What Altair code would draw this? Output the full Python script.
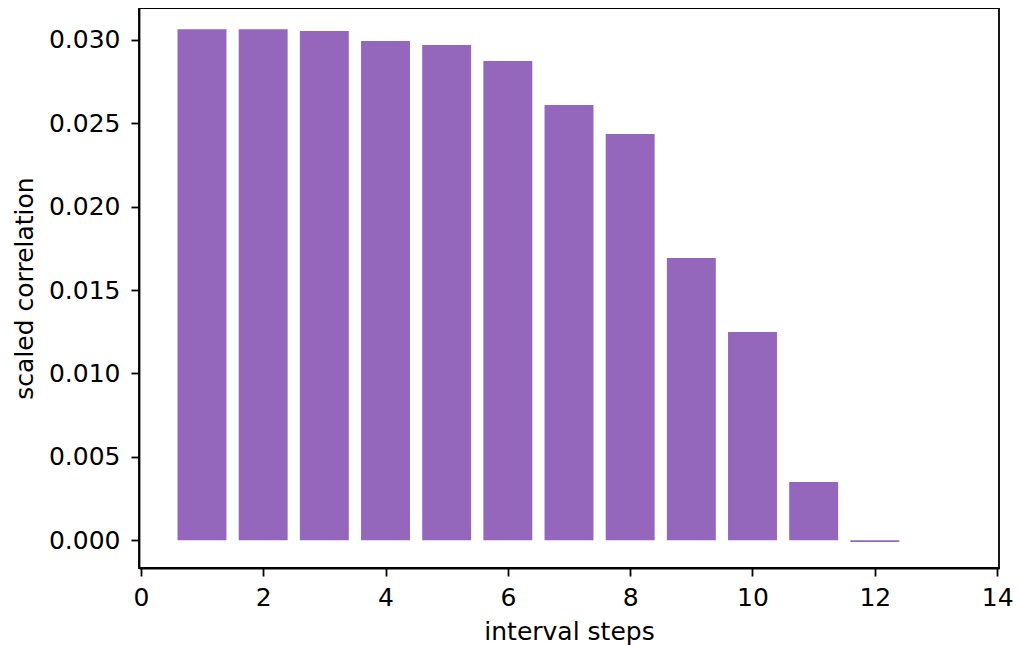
import altair as alt
import pandas as pd

steps = [1, 2, 3, 4, 5, 6, 7, 8, 9, 10, 11, 12]
values = [0.03064, 0.03064, 0.03053, 0.02993, 0.02969, 0.02874,
          0.02610, 0.02436, 0.01693, 0.01249, 0.00350, -0.0001]
x_ticks = [0, 2, 4, 6, 8, 10, 12, 14]
y_ticks = [0.000, 0.005, 0.010, 0.015, 0.020, 0.025, 0.030]

df = pd.DataFrame({"step": steps, "value": values})

FONT = "DejaVu Sans"

chart = alt.Chart(df).transform_calculate(
    left="datum.step - 0.4", right="datum.step + 0.4"
).mark_bar(color="#9467bd").encode(
    x=alt.X("left:Q", scale=alt.Scale(domain=[-0.03, 14.03], nice=False, zero=False),
            axis=alt.Axis(values=x_ticks, title="interval steps", format="d")),
    x2="right:Q",
    y=alt.Y("value:Q", scale=alt.Scale(domain=[-0.00166, 0.03191], nice=False, zero=False),
            axis=alt.Axis(values=y_ticks, title="scaled correlation", format=".3f")),
    y2=alt.datum(0),
).properties(
    width=860, height=560,
    autosize=alt.AutoSizeParams(type="none"),
    padding={"left": 131, "top": 0, "right": 14, "bottom": 77},
).configure_view(
    stroke="black", strokeWidth=1.8
).configure_axis(
    grid=False, domainColor="black", domainWidth=1.8,
    tickColor="black", tickWidth=1.8, tickSize=8,
    labelFont=FONT, labelFontSize=25, labelColor="black",
    titleFont=FONT, titleFontSize=25, titleColor="black", titleFontWeight="normal",
).configure_axisY(labelPadding=11, titlePadding=11).configure_axisX(labelPadding=9, titlePadding=9)

chart.save("out.html", embed_options={"renderer": "svg", "actions": False})
